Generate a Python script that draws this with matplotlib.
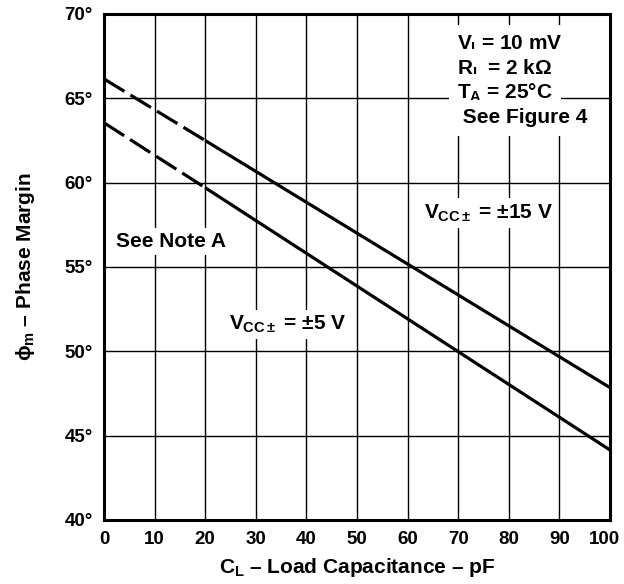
import matplotlib
matplotlib.use("Agg")
import matplotlib.pyplot as plt
import matplotlib.transforms as mtransforms

plt.rcParams['font.family'] = ['Liberation Sans', 'DejaVu Sans']
plt.rcParams['font.weight'] = 'bold'
plt.rcParams['mathtext.fontset'] = 'custom'
plt.rcParams['mathtext.rm'] = 'Liberation Sans:bold'
plt.rcParams['mathtext.it'] = 'Liberation Sans:bold'
plt.rcParams['mathtext.bf'] = 'Liberation Sans:bold'
plt.rcParams['mathtext.sf'] = 'Liberation Sans:bold'

# load capacitance (pF) and phase margin (deg)
cl = [0, 20, 100]
pm_15v = [66.15, 62.5, 47.85]
pm_5v = [63.55, 59.7, 44.15]
dashed_until = 1  # index where the dashed (extrapolated) part ends

x_ticks = [0, 10, 20, 30, 40, 50, 60, 70, 80, 90, 100]
y_ticks = [40, 45, 50, 55, 60, 65, 70]

fig = plt.figure(figsize=(6.24, 5.84), dpi=100)
ax = fig.add_axes([104 / 624, 64 / 584, 506 / 624, 506 / 584])

for ys in (pm_15v, pm_5v):
    ax.plot(cl[:dashed_until + 1], ys[:dashed_until + 1], color='black', lw=2.3,
            dashes=(7.5, 2.2), solid_capstyle='butt', zorder=3)
    ax.plot(cl[dashed_until:], ys[dashed_until:], color='black', lw=2.3,
            solid_capstyle='butt', zorder=3)

ax.set_xlim(0, 100)
ax.set_ylim(40, 70)
ax.set_xticks(x_ticks)
ax.set_yticks(y_ticks)
ax.set_xticklabels([str(v) for v in x_ticks], fontsize=13.5, fontweight='bold')
ax.set_yticklabels([f"{v}°" for v in y_ticks], fontsize=13.5, fontweight='bold')
ax.tick_params(length=0, pad=8)
# nudge the last x label left a bit so it stays inside the figure
last = ax.get_xticklabels()[-1]
last.set_transform(last.get_transform() +
                   mtransforms.ScaledTranslation(-4 / 72, 0, fig.dpi_scale_trans))
ax.grid(True, color='black', lw=1.0)
ax.set_axisbelow(True)
for s in ax.spines.values():
    s.set_linewidth(2.2)

ax.set_xlabel(r'$C_L$ – Load Capacitance – pF', fontsize=15,
              fontweight='bold', labelpad=6)
ax.set_ylabel(r'$\phi_m$ – Phase Margin', fontsize=15,
              fontweight='bold', labelpad=20)

box = dict(fc='white', ec='none', pad=3)
ax.text(13.3, 56.5, 'See Note A', fontsize=15, ha='center', va='center', bbox=box, zorder=4)
ax.text(75.9, 58.2, r'$V_{CC\pm}$ = ±15 V', fontsize=15,
        ha='center', va='center', bbox=box, zorder=4)
ax.text(36.2, 51.6, r'$V_{CC\pm}$ = ±5 V', fontsize=15,
        ha='center', va='center', bbox=box, zorder=4)

cond = [r'$V_I$ = 10 mV', r'$R_L$ = 2 kΩ', r'$T_A$ = 25°C', ' See Figure 4']
for i, t in enumerate(cond):
    ax.text(69.8, 68.2 - i * 1.45, t, fontsize=15, ha='left', va='center',
            bbox=dict(fc='white', ec='none', pad=6), zorder=4)

fig.savefig('out.png', dpi=100)
